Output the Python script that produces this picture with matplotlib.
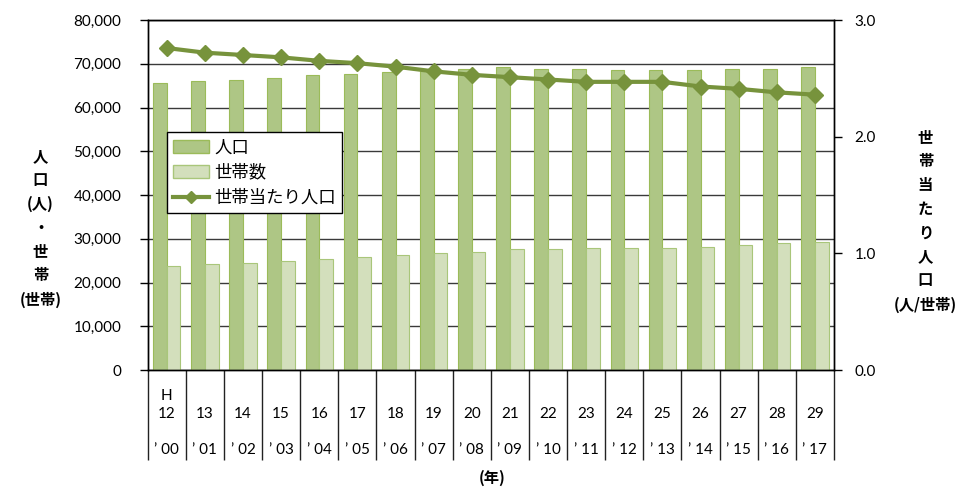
import numpy as np
import matplotlib
matplotlib.use('Agg')
import matplotlib.pyplot as plt
from matplotlib.patches import Patch
from matplotlib.lines import Line2D

plt.rcParams['font.family'] = ['Lato', 'Noto Sans CJK JP', 'DejaVu Sans']

# data
heisei = ['12', '13', '14', '15', '16', '17', '18', '19', '20',
          '21', '22', '23', '24', '25', '26', '27', '28', '29']
seireki = ['00', '01', '02', '03', '04', '05', '06', '07', '08',
           '09', '10', '11', '12', '13', '14', '15', '16', '17']
population = [65500, 66050, 66300, 66800, 67350, 67600, 68100, 68400, 68850,
              69150, 68850, 68850, 68650, 68650, 68650, 68850, 68850, 69150]
households = [23850, 24250, 24500, 25000, 25300, 25850, 26300, 26850, 27050,
              27600, 27600, 27900, 27900, 27900, 28150, 28650, 28950, 29150]
per_household = [2.76, 2.72, 2.70, 2.68, 2.65, 2.63, 2.60, 2.56, 2.53,
                 2.51, 2.49, 2.47, 2.47, 2.47, 2.43, 2.41, 2.38, 2.36]

c_pop = '#aec685'
c_pop_edge = '#9bbb59'
c_hh = '#d3dfbc'
c_hh_edge = '#a9c67a'
c_line = '#77933c'
jp = ['Noto Sans CJK JP', 'DejaVu Sans']

fig = plt.figure(figsize=(9.64, 4.88), dpi=100)
ax = fig.add_axes([0.1532, 0.2418, 0.7119, 0.7172])
x = np.arange(len(heisei))

ax.bar(x - 0.18, population, width=0.36, color=c_pop, edgecolor=c_pop_edge, linewidth=0.8, zorder=2)
ax.bar(x + 0.18, households, width=0.36, color=c_hh, edgecolor=c_hh_edge, linewidth=0.8, zorder=2)
ax.set_xlim(-0.5, len(heisei) - 0.5)
ax.set_ylim(0, 80000)
ax.set_yticks(np.arange(0, 80001, 10000))
ax.set_yticklabels(['{:,}'.format(v) for v in range(0, 80001, 10000)], fontsize=11)
ax.grid(axis='y', color='#3a3a3a', linewidth=1)
ax.set_axisbelow(True)
ax.tick_params(axis='y', length=6, width=1, pad=13)

labels = []
for i, (h, s) in enumerate(zip(heisei, seireki)):
    top = 'H' if i == 0 else ' '
    labels.append(top + '\n' + h + '\n\n' + '\u2019 ' + s)
ax.set_xticks(x)
ax.set_xticklabels(labels, fontsize=11, linespacing=1.36)
ax.tick_params(axis='x', which='major', length=0, pad=14)
ax.set_xticks(np.arange(-0.5, len(heisei), 1), minor=True)
ax.tick_params(axis='x', which='minor', length=65, width=1, color='#222222')

ax2 = ax.twinx()
ax2.plot(x, per_household, color=c_line, linewidth=3, marker='D', markersize=8, zorder=3)
ax2.set_ylim(0, 3.0)
ax2.set_yticks([0, 1.0, 2.0, 3.0])
ax2.set_yticklabels(['0.0', '1.0', '2.0', '3.0'], fontsize=11)
ax2.tick_params(axis='y', length=6, width=1, pad=9)

for a in (ax, ax2):
    for sp in a.spines.values():
        sp.set_color('black')
        sp.set_linewidth(1)

fig.text(0.042, 0.533, '人\n口\n(人)\n・\n世\n帯\n(世帯)', ha='center', va='center',
         family=jp, fontweight='bold', fontsize=11, linespacing=1.6)
fig.text(0.96, 0.547, '世\n帯\n当\nた\nり\n人\n口\n(人/世帯)', ha='center', va='center',
         family=jp, fontweight='bold', fontsize=11, linespacing=1.6)
fig.text(0.511, 0.02, '(年)', ha='center', va='center', family=jp, fontweight='bold', fontsize=11)

handles = [Patch(facecolor=c_pop, edgecolor=c_pop_edge),
           Patch(facecolor=c_hh, edgecolor=c_hh_edge),
           Line2D([], [], color=c_line, linewidth=3, marker='D', markersize=6)]
leg = ax2.legend(handles, ['人口', '世帯数', '世帯当たり人口'], loc='upper left',
                 bbox_to_anchor=(0.173, 0.729), bbox_transform=fig.transFigure,
                 prop={'family': jp, 'size': 12.5}, fancybox=False, framealpha=1,
                 edgecolor='black', borderpad=0.35, labelspacing=0.42, borderaxespad=0,
                 handlelength=2.1, handletextpad=0.3, handleheight=0.8)
leg.get_frame().set_linewidth(1)
leg.set_zorder(10)

fig.savefig('out.png', dpi=100)
